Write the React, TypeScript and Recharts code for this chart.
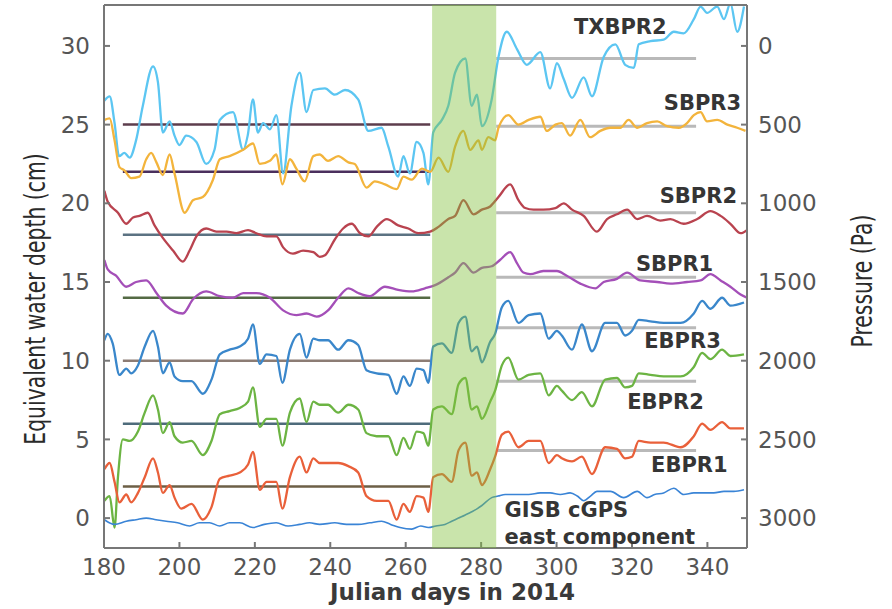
import React from "react";
import {
  LineChart,
  Line,
  XAxis,
  YAxis,
  ReferenceLine,
  ReferenceArea,
  ReferenceDot,
} from "recharts";

type Pt = [number, number];

// day of year, equivalent water depth (cm)
const txbpr2: Pt[] = [
  [180, 26.5], [181.5, 26.8], [182.8, 25.1], [184, 23.0], [185.4, 23.2], [186.8, 22.9],
  [188.5, 24.0], [190.3, 26.2], [193, 28.7], [194.3, 27.7], [195.6, 24.5], [197.4, 25.2],
  [198.7, 24.3], [200, 23.7], [201.8, 24.3], [204.5, 23.9], [207.1, 22.5], [209.3, 23.4],
  [210.7, 25.3], [214.2, 25.8], [216.9, 23.4], [218.1, 24.3], [219.5, 26.6], [220.8, 24.5],
  [222.2, 25.1], [224, 24.7], [225.7, 25.6], [227.5, 21.9], [229.7, 26.2], [231.9, 28.3],
  [233.7, 25.8], [235.5, 27.2], [238.6, 27.3], [241.2, 26.9], [243.9, 27.2], [247.4, 26.6],
  [250.1, 24.6], [253.6, 24.8], [255.4, 23.6], [258, 21.7], [259.4, 23.0], [261.1, 21.9],
  [262.9, 23.9], [264.7, 23.2], [266, 21.2], [267.3, 24.5], [269.6, 25.3], [271.3, 26.2],
  [273.1, 28.3], [275.8, 29.2], [277.5, 26.2], [278.9, 26.9], [280.2, 24.9], [282.8, 26.6],
  [284.6, 29.3], [286.8, 30.9], [289.5, 29.8], [292.1, 28.8], [295.7, 29.6], [298.3, 27.3],
  [300.1, 28.9], [301.9, 27.9], [304.1, 26.7], [307.2, 28.0], [309.4, 26.8], [312.5, 29.3],
  [315.6, 30.1], [318.2, 28.8], [320.5, 28.6], [321.8, 30.1], [324.9, 30.3], [328.4, 30.4],
  [331.1, 30.9], [333.7, 30.8], [336.4, 31.7], [338.2, 32.5], [339.9, 32.1], [342.6, 32.5],
  [344.4, 31.7], [346.1, 32.7], [347.9, 30.9], [349.7, 32.5],
];

const sbpr3: Pt[] = [
  [180.1, 25.3], [181.5, 25.4], [182.8, 24.0], [184.1, 22.3], [185.4, 22.1], [187.2, 21.6],
  [189.4, 21.7], [191.2, 22.8], [192.5, 23.2], [193.9, 22.6], [195.6, 21.8], [197.4, 23.1],
  [198.7, 21.9], [201.4, 19.4], [203.6, 20.2], [206.2, 20.4], [208.9, 21.5], [210.7, 22.8],
  [213.3, 23.0], [216.9, 23.4], [219.5, 23.8], [221.3, 22.5], [224, 22.7], [225.7, 23.1],
  [227.3, 21.2], [229.3, 22.8], [231, 22.2], [233.2, 21.4], [235.5, 23.0], [237.2, 23.1],
  [239.4, 22.7], [242.1, 23.0], [244.8, 22.6], [246.5, 22.5], [249.6, 21.0], [251.8, 21.4],
  [254.5, 21.2], [257.6, 20.9], [259.4, 21.7], [261.6, 21.5], [264.3, 22.2], [266.5, 22.0],
  [268.7, 22.9], [271.3, 22.0], [273.1, 23.6], [275.3, 24.6], [277.1, 23.4], [279.3, 24.0],
  [280.2, 23.4], [281.9, 24.2], [283.7, 24.0], [284.6, 24.8], [287.2, 25.6], [289.9, 25.0],
  [292.6, 25.3], [295.7, 25.5], [297.4, 24.6], [299.7, 25.0], [301.4, 25.1], [303.6, 24.3],
  [306.3, 25.3], [308.9, 24.2], [311.6, 24.6], [314.3, 24.8], [316.9, 24.8], [319.1, 25.3],
  [321.4, 24.8], [324, 25.1], [326.7, 25.2], [329.3, 24.9], [332.4, 24.8], [334.6, 25.1],
  [336.4, 25.6], [338.2, 25.8], [339.9, 25.2], [342.6, 25.3], [345.3, 25.0], [347.9, 24.8],
  [350.1, 24.6],
];

const sbpr2: Pt[] = [
  [180.1, 20.8], [181, 20.1], [183.7, 19.4], [185.9, 18.7], [187.7, 19.1], [189.4, 19.2],
  [191.6, 19.4], [193.4, 18.6], [195.6, 17.8], [198.3, 17.0], [200.9, 16.3], [202.7, 17.0],
  [204.5, 17.9], [207.1, 18.4], [209.8, 18.2], [212.5, 18.2], [215.1, 18.1], [218.2, 18.3],
  [220.4, 18.1], [223.1, 17.9], [225.7, 17.9], [227.5, 17.2], [230.1, 16.8], [232.8, 17.0],
  [235.5, 16.9], [237.2, 16.6], [238.6, 16.7], [241.2, 17.7], [243.4, 18.4], [245.7, 18.7],
  [247.9, 18.1], [250.1, 17.9], [252.3, 18.5], [255, 19.0], [258, 18.6], [260.7, 18.4],
  [263.3, 18.1], [266.5, 18.2], [268.7, 18.5], [271.3, 19.0], [273.1, 19.2], [275.3, 20.2],
  [278, 19.3], [280.2, 19.6], [282.4, 19.8], [284.6, 20.4], [287.7, 21.2], [289.9, 20.2],
  [291.7, 19.7], [293.9, 19.6], [296.5, 19.6], [299.7, 19.7], [301.9, 20.0], [304.1, 19.6],
  [307.2, 19.2], [310.7, 18.2], [313.4, 19.0], [316, 19.3], [318.7, 19.6], [321.4, 19.0],
  [324, 19.2], [327.5, 18.9], [330.2, 19.0], [333.7, 18.7], [337.3, 19.0], [340.8, 19.5],
  [343.5, 19.2], [346.1, 18.7], [348.8, 18.1], [350.5, 18.3],
];

const sbpr1: Pt[] = [
  [180.1, 16.4], [181, 15.8], [183.2, 15.4], [185.9, 14.7], [188.5, 15.0], [191.2, 15.1],
  [193.9, 14.3], [196.5, 13.5], [200.9, 13.0], [203.6, 13.9], [207.1, 14.4], [210.7, 14.1],
  [214.2, 14.0], [216.9, 14.3], [220.4, 14.3], [224, 14.0], [227.5, 13.2], [231, 12.9],
  [233.7, 13.0], [236.4, 12.8], [239.4, 13.2], [242.1, 14.0], [244.8, 14.6], [247.4, 14.3],
  [250.5, 14.1], [254.5, 14.7], [258, 14.5], [261.6, 14.4], [265.1, 14.6], [267.8, 14.8],
  [271.3, 15.3], [273.1, 15.6], [275.3, 16.2], [278, 15.6], [280.2, 15.9], [282.8, 16.0],
  [285, 16.4], [287.7, 16.9], [289.5, 16.2], [291.2, 15.6], [293, 15.5], [296.5, 15.7],
  [300.1, 15.7], [302.7, 15.4], [306.3, 14.9], [310.3, 14.6], [312.5, 15.0], [316, 15.2],
  [318.7, 15.6], [322.2, 15.1], [326.7, 15.0], [330.2, 14.9], [334.6, 15.0], [338.2, 15.1],
  [340.8, 15.5], [343.5, 15.1], [346.1, 14.7], [348.8, 14.2], [350.5, 14.0],
];

const ebpr3: Pt[] = [
  [180.1, 11.3], [181, 11.7], [182.3, 11.1], [184.1, 9.1], [185.9, 9.5], [187.2, 9.2],
  [189, 9.7], [190.8, 10.9], [193, 11.9], [194.3, 10.9], [195.6, 9.2], [197.4, 9.9],
  [198.7, 9.0], [200.9, 8.7], [203.2, 8.7], [206.2, 7.9], [208.5, 8.8], [210.7, 10.4],
  [213.3, 10.7], [216, 10.9], [218.2, 11.4], [219.5, 12.3], [221.3, 9.8], [223.1, 10.4],
  [225.7, 10.3], [227.3, 8.6], [229.3, 10.7], [231.9, 11.7], [233.7, 10.2], [235.5, 11.4],
  [237.2, 11.3], [239.4, 11.3], [242.1, 10.7], [244.8, 11.3], [247.4, 11.0], [249.6, 9.4],
  [252.3, 9.2], [255.4, 9.1], [257.6, 7.9], [259.4, 9.0], [261.1, 8.4], [262.9, 9.5],
  [264.7, 9.4], [266, 8.6], [267.3, 10.9], [269.6, 11.1], [272.2, 10.5], [274, 12.4],
  [275.8, 12.8], [277.5, 10.6], [278.9, 10.9], [280.2, 9.9], [282.4, 11.2], [283.7, 11.7],
  [285.5, 13.4], [287.2, 13.8], [289.9, 12.4], [292.6, 12.9], [295.7, 13.0], [297.9, 11.4],
  [300.1, 11.9], [301.4, 11.6], [304.1, 10.7], [306.7, 12.3], [309.4, 10.6], [312.9, 12.4],
  [316, 12.4], [318.2, 11.6], [320, 11.9], [321.8, 12.6], [324.9, 12.5], [328.4, 12.4],
  [332.9, 12.4], [336.4, 13.0], [338.6, 13.8], [340.8, 13.3], [343.9, 14.0], [346.1, 13.5],
  [349.7, 13.7],
];

const ebpr2: Pt[] = [
  [180.1, 1.1], [181.5, 1.4], [182.8, -0.6], [183.7, 2.6], [185, 5.0], [186.8, 4.9],
  [189, 5.5], [190.8, 6.7], [193, 7.8], [194.3, 6.9], [195.6, 5.4], [197.4, 6.1],
  [198.7, 5.2], [200.9, 4.8], [203.2, 4.9], [206.2, 4.0], [208.5, 4.9], [210.7, 6.6],
  [213.3, 6.8], [216, 7.0], [218.2, 7.4], [219.5, 8.3], [221.3, 5.8], [223.1, 6.3],
  [225.7, 6.3], [227.3, 4.6], [229.3, 6.7], [231.9, 7.6], [233.7, 6.1], [235.5, 7.4],
  [237.2, 7.2], [239.4, 7.2], [242.1, 6.7], [244.8, 7.2], [247.4, 6.9], [249.6, 5.4],
  [252.3, 5.2], [255.4, 5.2], [257.6, 4.0], [259.4, 5.1], [261.1, 4.4], [262.9, 5.5],
  [264.7, 5.4], [266, 4.6], [267.3, 6.9], [269.6, 7.1], [272.2, 6.6], [274, 8.5],
  [275.8, 8.9], [277.5, 6.9], [278.9, 7.1], [280.2, 6.3], [282.4, 7.4], [283.7, 8.1],
  [285.5, 9.7], [287.2, 10.2], [289.9, 8.8], [292.6, 9.1], [295.7, 9.2], [297.9, 7.8],
  [300.1, 8.4], [301.4, 8.1], [304.1, 7.5], [306.7, 8.0], [309.4, 7.1], [312.9, 8.8],
  [316, 8.9], [318.2, 8.3], [320, 8.4], [321.8, 9.2], [324.9, 9.1], [328.4, 9.0],
  [332.9, 9.0], [336.4, 9.6], [338.6, 10.5], [340.8, 10.1], [343.9, 10.7], [346.1, 10.3],
  [349.7, 10.4],
];

const ebpr1: Pt[] = [
  [180.1, 3.1], [181.5, 3.5], [182.8, 2.3], [184.1, 1.0], [185.9, 1.5], [187.2, 1.0],
  [189, 1.6], [190.8, 2.6], [193, 3.8], [194.3, 2.9], [195.6, 1.6], [197.4, 2.1],
  [198.7, 1.3], [200.5, 0.6], [203.2, 0.9], [206.2, -0.1], [208.5, 0.7], [210.7, 2.5],
  [213.3, 2.7], [216, 2.9], [218.2, 3.4], [219.5, 4.2], [221.3, 1.8], [223.1, 2.3],
  [225.7, 2.3], [227.3, 0.6], [229.3, 2.6], [231.9, 3.9], [233.7, 2.9], [235.5, 3.8],
  [237.2, 3.5], [239.4, 3.5], [242.1, 3.5], [244.8, 3.3], [247.4, 2.9], [249.6, 1.4],
  [252.3, 1.1], [255.4, 1.1], [257.6, -0.1], [259.4, 0.9], [261.1, 0.4], [262.9, 1.4],
  [264.7, 1.3], [266, 0.4], [267.3, 2.6], [269.6, 2.8], [272.2, 2.3], [274, 4.3],
  [275.8, 4.8], [277.5, 2.7], [278.9, 2.9], [280.2, 2.1], [282.4, 3.1], [283.7, 3.9],
  [285.5, 5.3], [287.2, 5.5], [289.9, 4.5], [292.6, 4.9], [295.7, 4.9], [297.9, 3.5],
  [300.1, 4.0], [301.4, 3.8], [304.1, 3.6], [306.7, 3.9], [309.4, 2.8], [312.9, 4.5],
  [316, 4.4], [318.2, 3.8], [320, 3.9], [321.8, 4.9], [324.9, 4.8], [328.4, 4.8],
  [332.9, 4.5], [336.4, 5.2], [338.6, 6.0], [340.8, 5.6], [343.9, 6.1], [346.1, 5.7],
  [349.7, 5.7],
];

const gisb: Pt[] = [
  [180.1, -0.1], [182.8, -0.4], [185.9, -0.2], [188.5, -0.1], [191.2, 0.0], [193.8, -0.1],
  [196.5, -0.2], [199.5, -0.3], [202.7, -0.5], [205.3, -0.3], [208, -0.3], [210.7, -0.5],
  [213.3, -0.3], [216, -0.3], [219.5, -0.6], [222.5, -0.4], [225.7, -0.3], [228.8, -0.5],
  [231.9, -0.4], [234.5, -0.3], [237.2, -0.4], [241.2, -0.3], [244.3, -0.4], [247.4, -0.4],
  [250.5, -0.3], [253.6, -0.2], [256, -0.4], [258.5, -0.6], [261.6, -0.7], [264, -0.5],
  [266, -0.6], [268, -0.5], [270.4, -0.4], [272.2, -0.2], [274, 0.0], [275.8, 0.2],
  [277.5, 0.4], [279, 0.6], [280.2, 0.8], [282.8, 1.3], [284.5, 1.4], [286.4, 1.5],
  [289.5, 1.5], [292.6, 1.5], [295.7, 1.6], [298.3, 1.6], [301, 1.5], [303.6, 1.6],
  [305.5, 1.4], [307.2, 1.1], [309, 1.4], [310.7, 1.7], [314.3, 1.7], [317.8, 1.3],
  [321.4, 1.7], [324, 1.3], [326, 1.5], [328.4, 1.6], [331.1, 1.9], [333.7, 1.5],
  [336.4, 1.6], [339, 1.6], [341.7, 1.6], [344.4, 1.7], [347, 1.7], [349.7, 1.8],
];

const seriesList = [txbpr2, sbpr3, sbpr2, sbpr1, ebpr3, ebpr2, ebpr1, gisb];
const seriesNames = ["TXBPR2", "SBPR3", "SBPR2", "SBPR1", "EBPR3", "EBPR2", "EBPR1", "GISB"];
const seriesColors = ["#5cc6f2", "#f3b43c", "#b9434f", "#a44fb8", "#3a87cb", "#6cb443", "#e9603a", "#3a84d6"];

// mean levels before and after the shaded interval
const levelsBefore = [25, 22, 18, 14, 10, 6, 2];
const levelsAfter = [29.2, 24.9, 19.4, 15.3, 12.1, 8.7, 4.3];
const levelColorsBefore = ["#5d3d4c", "#4a2f5d", "#5b7282", "#546a44", "#8c7c74", "#4e6b7b", "#6c5f46"];
const beforeSpan = [185, 266.5];
const afterSpan = [284, 337];
const bandDays = [267, 284];

// station labels (day, cm)
const labelDays = [316.9, 338.7, 337.6, 331.3, 333.4, 328.9, 335.2];
const labelDepths = [31.2, 26.4, 20.5, 16.2, 11.3, 7.4, 3.4];
const gpsLabels = ["GISB cGPS", "east component"];
const gpsLabelDay = 286.2;
const gpsLabelDepths = [0.55, -1.2];

const dayTicks = [180, 200, 220, 240, 260, 280, 300, 320, 340];
const depthTicks = [0, 5, 10, 15, 20, 25, 30];
const pressureTicks = [0, 500, 1000, 1500, 2000, 2500, 3000];

const FONT = "DejaVu Sans";
const tickStyle = { fill: "#555", fontSize: 23, fontFamily: FONT };

const VerticalTitle = ({ text, x, y }: { text: string; x: number; y: number }) => (
  <text
    transform={`translate(${x},${y}) rotate(-90) scale(0.78,1)`}
    textAnchor="middle"
    fontFamily="DejaVu Sans Condensed, DejaVu Sans"
    fontSize={29}
    fill="#2a2a2a"
  >
    {text}
  </text>
);

export default function App() {
  const rows = seriesList.map((s) => s.map(([d, v]) => ({ d, v })));

  return (
    <div style={{ position: "absolute", left: 0, top: 0, width: 892, height: 609, background: "#fff" }}>
      <LineChart width={892} height={609} margin={{ top: 0, right: 55, bottom: 0, left: 0 }}>
        <XAxis
          xAxisId="b"
          dataKey="d"
          type="number"
          domain={[180, 350.5]}
          ticks={dayTicks}
          allowDataOverflow
          height={61}
          tickSize={-6}
          tickMargin={17}
          stroke="#777"
          strokeWidth={2}
          tick={tickStyle}
          label={{
            value: "Julian days in 2014",
            position: "insideBottom",
            offset: 9,
            dx: 27,
            fill: "#3a3a3a",
            fontSize: 23,
            fontWeight: 700,
            fontFamily: FONT,
          }}
        />
        <XAxis
          xAxisId="t"
          orientation="top"
          type="number"
          domain={[180, 350.5]}
          ticks={dayTicks}
          allowDataOverflow
          height={5}
          tick={false}
          tickSize={-6}
          stroke="#777"
          strokeWidth={2}
        />
        <YAxis
          yAxisId="l"
          type="number"
          domain={[-1.9, 32.6]}
          ticks={depthTicks}
          allowDataOverflow
          width={104}
          tickSize={-6}
          tickMargin={20}
          stroke="#777"
          strokeWidth={2}
          tick={tickStyle}
          label={{ content: () => <VerticalTitle text="Equivalent water depth (cm)" x={45} y={299} /> }}
        />
        <YAxis
          yAxisId="r"
          orientation="right"
          type="number"
          domain={[-260, 3190]}
          reversed
          ticks={pressureTicks}
          allowDataOverflow
          width={90}
          tickSize={-6}
          tickMargin={17}
          stroke="#777"
          strokeWidth={2}
          tick={tickStyle}
          label={{ content: () => <VerticalTitle text="Pressure (Pa)" x={872} y={281} /> }}
        />

        {levelsBefore.map((lv, i) => (
          <ReferenceLine
            key={`b${i}`}
            xAxisId="b"
            yAxisId="l"
            segment={[
              { x: beforeSpan[0], y: lv },
              { x: beforeSpan[1], y: lv },
            ]}
            stroke={levelColorsBefore[i]}
            strokeWidth={2.5}
          />
        ))}
        {levelsAfter.map((lv, i) => (
          <ReferenceLine
            key={`a${i}`}
            xAxisId="b"
            yAxisId="l"
            segment={[
              { x: afterSpan[0], y: lv },
              { x: afterSpan[1], y: lv },
            ]}
            stroke="#b9b9b9"
            strokeWidth={3}
          />
        ))}

        {rows.map((r, i) => (
          <Line
            key={seriesNames[i]}
            xAxisId="b"
            yAxisId="l"
            data={r}
            dataKey="v"
            name={seriesNames[i]}
            type="monotone"
            stroke={seriesColors[i]}
            strokeWidth={i === 7 ? 1.6 : 2.3}
            dot={false}
            isAnimationActive={false}
          />
        ))}

        <ReferenceArea
          xAxisId="b"
          yAxisId="l"
          x1={bandDays[0]}
          x2={bandDays[1]}
          fill="#82c03c"
          fillOpacity={0.43}
          stroke="none"
          {...({ zIndex: 1000 } as any)}
        />

        {labelDays.map((d, i) => (
          <ReferenceDot
            key={`l${i}`}
            xAxisId="b"
            yAxisId="l"
            x={d}
            y={labelDepths[i]}
            r={0}
            fill="none"
            stroke="none"
            label={{
              value: seriesNames[i],
              position: "center",
              fill: "#353535",
              fontSize: 21,
              fontWeight: 700,
              fontFamily: FONT,
            }}
          />
        ))}
        {gpsLabels.map((t, i) => (
          <ReferenceDot
            key={`g${i}`}
            xAxisId="b"
            yAxisId="l"
            x={gpsLabelDay}
            y={gpsLabelDepths[i]}
            r={0}
            fill="none"
            stroke="none"
            label={{
              value: t,
              position: "right",
              offset: 0,
              fill: "#353535",
              fontSize: 21,
              fontWeight: 700,
              fontFamily: FONT,
            }}
          />
        ))}
      </LineChart>
    </div>
  );
}
